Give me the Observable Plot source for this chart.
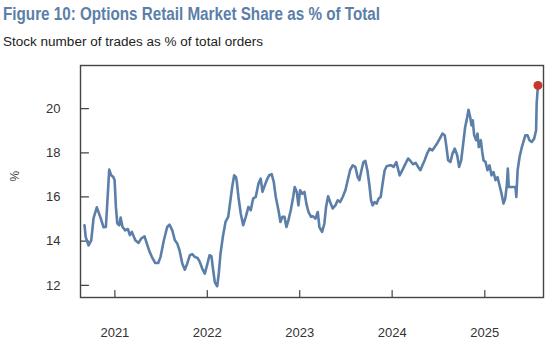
<!DOCTYPE html>
<html>
<head>
<meta charset="utf-8">
<script src="https://cdn.jsdelivr.net/npm/d3@7"></script>
<script src="https://cdn.jsdelivr.net/npm/@observablehq/plot@0.6"></script>
<style>
  html, body { margin: 0; padding: 0; background: #fff; }
  #wrap { position: relative; width: 554px; height: 358px; overflow: hidden; }
  #title { position: absolute; left: 3px; top: 4px; font-family: "Liberation Sans", Arial, sans-serif; font-weight: bold; font-size: 18px; color: #5b7fa8; white-space: nowrap; transform-origin: 0 0; }
  #subtitle { position: absolute; left: 3px; top: 35px; font-family: "Liberation Sans", Arial, sans-serif; font-size: 12.5px; color: #222; white-space: nowrap; transform-origin: 0 0; }
  #chart { position: absolute; left: 0; top: 0; }
</style>
</head>
<body>
<div id="wrap">
  <div id="chart"></div>
  <div id="title">Figure 10: Options Retail Market Share as % of Total</div>
  <div id="subtitle">Stock number of trades as % of total orders</div>
</div>
<script>
// Decimal-year positions of the traced points
const years = [
  2020.672, 2020.685, 2020.716, 2020.745, 2020.770, 2020.805, 2020.842, 2020.878, 2020.903, 2020.924,
  2020.939, 2020.961, 2020.983, 2020.997, 2021.011, 2021.026, 2021.048, 2021.062, 2021.083, 2021.112,
  2021.141, 2021.162, 2021.184, 2021.221, 2021.256, 2021.285, 2021.321, 2021.346, 2021.372, 2021.400,
  2021.437, 2021.469, 2021.494, 2021.530, 2021.566, 2021.591, 2021.621, 2021.649, 2021.675, 2021.699,
  2021.729, 2021.757, 2021.783, 2021.811, 2021.837, 2021.865, 2021.894, 2021.919, 2021.945, 2021.973,
  2022.002, 2022.024, 2022.045, 2022.059, 2022.081, 2022.107, 2022.124, 2022.143, 2022.168, 2022.197,
  2022.226, 2022.248, 2022.269, 2022.291, 2022.310, 2022.319, 2022.337, 2022.362, 2022.388, 2022.416,
  2022.445, 2022.470, 2022.496, 2022.524, 2022.554, 2022.578, 2022.597, 2022.618, 2022.643, 2022.669,
  2022.697, 2022.719, 2022.741, 2022.770, 2022.791, 2022.813, 2022.835, 2022.856, 2022.878, 2022.903,
  2022.929, 2022.946, 2022.968, 2022.986, 2023.004, 2023.029, 2023.051, 2023.072, 2023.094, 2023.123,
  2023.141, 2023.170, 2023.195, 2023.213, 2023.242, 2023.267, 2023.285, 2023.307, 2023.329, 2023.357,
  2023.386, 2023.411, 2023.437, 2023.465, 2023.494, 2023.519, 2023.545, 2023.573, 2023.602, 2023.627,
  2023.645, 2023.664, 2023.689, 2023.710, 2023.732, 2023.754, 2023.772, 2023.789, 2023.811, 2023.832,
  2023.854, 2023.876, 2023.897, 2023.919, 2023.941, 2023.970, 2023.991, 2024.016, 2024.045, 2024.081,
  2024.110, 2024.135, 2024.172, 2024.197, 2024.226, 2024.254, 2024.280, 2024.305, 2024.327, 2024.351,
  2024.377, 2024.405, 2024.435, 2024.459, 2024.485, 2024.514, 2024.543, 2024.568, 2024.586, 2024.604,
  2024.629, 2024.651, 2024.676, 2024.702, 2024.723, 2024.745, 2024.767, 2024.788, 2024.805, 2024.824,
  2024.842, 2024.856, 2024.870, 2024.885, 2024.907, 2024.921, 2024.935, 2024.957, 2024.972, 2024.986,
  2025.008, 2025.029, 2025.051, 2025.072, 2025.094, 2025.116, 2025.137, 2025.159, 2025.181, 2025.202,
  2025.221, 2025.238, 2025.249, 2025.259, 2025.278, 2025.310, 2025.332, 2025.341, 2025.355, 2025.376,
  2025.401, 2025.438, 2025.462, 2025.483, 2025.508, 2025.534, 2025.555, 2025.561, 2025.575
];
// Options retail market share, % of total orders
const share = [
  14.72, 14.19, 13.81, 14.04, 15.04, 15.53, 15.10, 14.63, 14.64, 16.15,
  17.24, 16.98, 16.90, 16.76, 15.55, 14.80, 14.72, 15.07, 14.64, 14.49,
  14.55, 14.27, 14.42, 14.04, 13.92, 14.12, 14.22, 13.89, 13.56, 13.29,
  13.01, 13.01, 13.29, 14.04, 14.64, 14.75, 14.49, 14.04, 13.89, 13.59,
  12.99, 12.71, 12.99, 13.36, 13.41, 13.29, 13.24, 13.06, 12.76, 12.53,
  12.99, 13.36, 13.32, 12.83, 12.15, 11.96, 12.53, 13.44, 14.19, 14.87,
  15.10, 15.77, 16.45, 16.98, 16.90, 16.70, 16.00, 15.25, 14.72, 15.10,
  15.55, 15.40, 15.93, 16.00, 16.61, 16.83, 16.23, 16.48, 16.76, 16.98,
  17.03, 16.68, 16.00, 15.40, 14.87, 15.10, 15.10, 14.64, 14.95, 15.40,
  16.00, 16.45, 16.23, 15.62, 16.30, 16.15, 16.23, 15.70, 15.33, 15.10,
  15.13, 15.02, 15.32, 14.64, 14.42, 14.80, 15.55, 16.03, 15.77, 15.48,
  15.62, 15.85, 15.77, 16.00, 16.30, 16.76, 17.21, 17.43, 17.36, 16.90,
  16.76, 17.13, 17.58, 17.63, 17.21, 16.53, 15.85, 15.62, 15.77, 15.70,
  15.93, 16.00, 16.61, 17.21, 17.39, 17.43, 17.43, 17.36, 17.58, 16.98,
  17.21, 17.43, 17.74, 17.63, 17.48, 17.54, 17.36, 17.21, 17.43, 17.66,
  17.96, 18.19, 18.11, 18.26, 18.42, 18.64, 18.87, 18.79, 18.26, 17.66,
  17.58, 17.96, 18.19, 17.89, 17.36, 17.66, 18.42, 19.17, 19.50, 19.95,
  19.62, 19.24, 19.47, 18.79, 18.57, 18.87, 18.26, 18.57, 18.04, 17.66,
  17.58, 17.21, 17.43, 16.98, 17.13, 16.76, 16.90, 16.53, 16.15, 15.70,
  15.93, 16.53, 17.29, 16.45, 16.45, 16.45, 16.45, 16.00, 17.21, 17.81,
  18.26, 18.79, 18.79, 18.57, 18.49, 18.64, 19.02, 20.23, 21.05
];
const yTicks = [12, 14, 16, 18, 20];
const xTickYears = [2021, 2022, 2023, 2024, 2025];
const xDomainYears = [2020.629, 2025.635];
const yDomain = [11.45, 21.95];
const yAxisLabel = "%";

function decToDate(t) {
  const y = Math.floor(t);
  const s = Date.UTC(y, 0, 1), e = Date.UTC(y + 1, 0, 1);
  return new Date(s + (t - y) * (e - s));
}
const data = years.map((t, i) => ({date: decToDate(t), value: share[i]}));
const last = [data[data.length - 1]];
const xTicks = xTickYears.map(y => new Date(Date.UTC(y, 0, 1)));

// inward tick shape for vectors
const tickShape = {draw(context, l) { context.moveTo(0, 0); context.lineTo(0, -l); }};

const axisColor = "#444";
const chart = Plot.plot({
  width: 554,
  height: 358,
  marginLeft: 80,
  marginRight: 11,
  marginTop: 65,
  marginBottom: 61,
  style: {fontFamily: "'Liberation Sans', Arial, sans-serif", fontSize: "13px", color: "#333", background: "transparent"},
  x: {type: "utc", domain: xDomainYears.map(decToDate)},
  y: {domain: yDomain},
  marks: [
    Plot.axisX({ticks: xTicks, tickSize: 0, tickPadding: 30, tickFormat: d3.utcFormat("%Y"), label: null, fill: "#333"}),
    Plot.axisY({ticks: yTicks, tickSize: 0, tickPadding: 20, label: null, fill: "#333"}),
    Plot.vector(xTicks, {x: d => d, frameAnchor: "bottom", length: 7, rotate: 0, anchor: "start", shape: tickShape, stroke: axisColor, strokeWidth: 1.2}),
    Plot.vector(yTicks, {y: d => d, frameAnchor: "left", length: 8, rotate: 90, anchor: "start", shape: tickShape, stroke: axisColor, strokeWidth: 1.2}),
    Plot.text([yAxisLabel], {frameAnchor: "left", rotate: -90, dx: -65, fontSize: 12, fill: "#444"}),
    Plot.frame({stroke: axisColor, strokeWidth: 1.4}),
    Plot.line(data, {x: "date", y: "value", stroke: "#5b7fa8", strokeWidth: 2.6, strokeLinejoin: "round"}),
    Plot.dot(last, {x: "date", y: "value", r: 4.5, fill: "#c4372c", stroke: "none"})
  ]
});
document.getElementById("chart").appendChild(chart);

// fit title/subtitle widths to the reference's text extents
function fitWidth(id, target) {
  const el = document.getElementById(id);
  const w = el.getBoundingClientRect().width;
  if (w > 0) el.style.transform = `scaleX(${target / w})`;
}
fitWidth("title", 377);
fitWidth("subtitle", 260);
</script>
</body>
</html>
